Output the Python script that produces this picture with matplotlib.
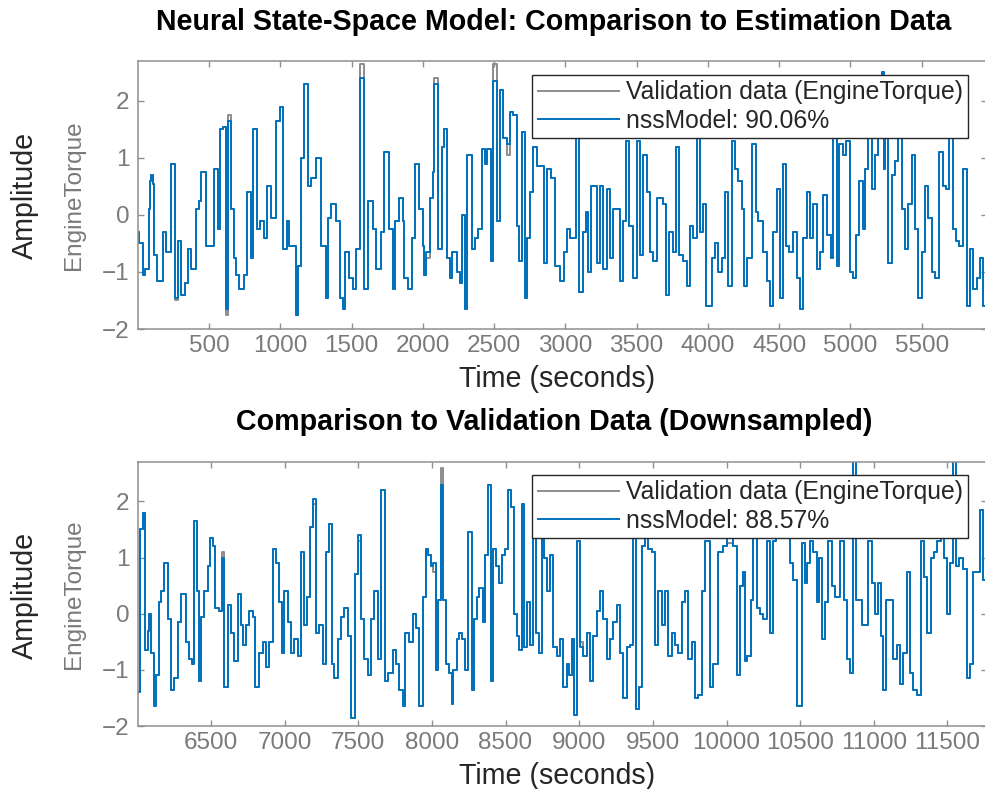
import matplotlib
matplotlib.use("Agg")
import matplotlib.pyplot as plt
import numpy as np

plt.rcParams['font.family'] = ['Liberation Sans', 'DejaVu Sans']

# ── data: step signals (switch time in s, level) ─────────────────────────────
# estimation data (top panel)
T_EST = [2, 11, 35, 53, 77, 86, 96, 105, 117, 133,
         175, 198, 234, 264, 280, 304, 334, 350, 374, 409,
         432, 444, 479, 538, 561, 577, 601, 619, 631, 654,
         678, 690, 713, 748, 767, 795, 807, 835, 858, 888,
         905, 935, 970, 1001, 1017, 1045, 1064, 1110, 1127, 1146,
         1169, 1192, 1216, 1251, 1286, 1321, 1333, 1356, 1391, 1419,
         1438, 1457, 1485, 1508, 1531, 1559, 1590, 1613, 1648, 1672,
         1707, 1730, 1765, 1789, 1807, 1835, 1859, 1870, 1894, 1924,
         1948, 1976, 1999, 2010, 2022, 2050, 2069, 2078, 2109, 2132,
         2148, 2167, 2190, 2207, 2237, 2261, 2277, 2296, 2312, 2342,
         2366, 2389, 2413, 2436, 2448, 2476, 2494, 2523, 2541, 2565,
         2593, 2611, 2630, 2658, 2677, 2693, 2717, 2733, 2752, 2775,
         2798, 2850, 2869, 2897, 2927, 2962, 2990, 3009, 3032, 3074,
         3098, 3121, 3145, 3161, 3177, 3219, 3243, 3266, 3290, 3313,
         3336, 3383, 3406, 3425, 3449, 3477, 3500, 3523, 3547, 3570,
         3594, 3617, 3645, 3687, 3706, 3729, 3753, 3776, 3799, 3827,
         3851, 3874, 3898, 3921, 3944, 3968, 3986, 4027, 4050, 4074,
         4097, 4120, 4144, 4167, 4191, 4214, 4237, 4254, 4272, 4312,
         4336, 4354, 4389, 4413, 4436, 4459, 4483, 4506, 4525, 4548,
         4572, 4595, 4623, 4647, 4670, 4693, 4717, 4740, 4763, 4787,
         4810, 4834, 4862, 4880, 4904, 4922, 4946, 4969, 4997, 5016,
         5039, 5063, 5086, 5103, 5126, 5149, 5173, 5196, 5220, 5236,
         5243, 5266, 5290, 5313, 5336, 5360, 5383, 5407, 5430, 5453,
         5477, 5500, 5523, 5547, 5570, 5594, 5624, 5647, 5671, 5694,
         5718, 5741, 5764, 5792, 5816, 5839, 5863, 5886, 5909, 5933]
NSS_EST = [-0.3, -0.5, -1.05, -0.95, 0.1, 0.6, 0.7, 0.55, -0.7, -1.15,
           -0.3, -0.65, 0.9, -1.45, -0.45, -1.4, -1.2, -0.6, -0.95, 0.1,
           0.25, 0.75, -0.55, 0.8, -0.25, 1.5, 1.55, -1.65, 1.65, 0.1,
           -0.75, -1.05, -1.3, -1.05, 0.4, -0.75, 1.5, -0.25, -0.1, -0.4,
           0.5, -0.05, 1.65, 1.9, -0.6, -0.1, -0.55, -1.75, -0.9, 1.0,
           2.3, 0.5, 0.65, 1.0, -0.55, -1.45, -0.05, 0.2, -0.1, -1.45,
           -1.65, -0.65, -1.1, -1.3, -0.6, 2.4, -1.3, 0.25, -0.25, -0.95,
           -0.3, 1.1, -0.25, -1.3, -0.1, 0.3, -0.1, -1.1, -1.3, -0.4,
           0.9, 0.1, -0.55, -1.05, -0.65, 0.3, 0.75, 2.3, -0.6, 1.2,
           1.5, -0.75, -1.1, -0.65, -1.0, -1.2, 0.0, -1.65, 1.05, -0.6,
           -0.4, -0.25, 1.15, 0.9, 1.15, -0.8, 2.35, -0.1, 2.2, 1.35,
           1.25, 1.8, 1.75, -0.2, -0.8, 1.45, -1.45, -0.4, 0.4, 1.2,
           0.85, -0.85, 0.8, 0.65, -0.9, -1.15, -0.65, -0.25, -0.4, 1.35,
           -1.35, -0.3, 0.05, -1.0, 0.5, -0.85, 0.5, -0.95, 0.45, -0.75,
           0.1, -1.15, -0.1, 1.3, -0.2, -1.1, 1.3, -0.7, 1.05, 0.4,
           -0.65, -0.8, 0.3, 0.2, -1.4, -0.3, -0.65, 1.2, -0.7, -0.8,
           -1.25, -0.2, -0.4, 1.35, -0.3, 0.2, -1.6, -0.75, -0.5, -1.0,
           -0.75, 0.4, -1.25, 1.3, 0.8, 0.6, 0.1, -1.25, -0.75, 1.25,
           0.05, -0.1, -0.65, -1.15, -1.6, -0.3, 0.45, -1.45, 0.9, -0.55,
           -0.65, -0.3, -1.1, -1.65, -0.4, 0.4, -0.4, 0.2, -0.95, -0.65,
           0.35, -0.35, -0.75, 1.6, -0.9, 1.25, 1.05, 1.3, -1.0, -1.1,
           -0.35, 0.6, -0.25, 0.8, 1.6, 0.45, 1.05, 1.8, 2.5, 0.8,
           1.7, -0.85, 0.7, 0.95, 1.8, 0.1, -0.6, 0.2, 1.05, -0.25,
           -1.45, -0.65, 0.5, -0.05, -1.0, -1.1, 1.1, 0.5, 0.45, 1.5,
           -0.25, -0.45, -0.55, 0.8, -1.6, -0.6, -1.3, -1.1, -0.75, -1.6]
# segments where the measured data departs from the model
EST_DIFF_T = [264, 619, 631, 1559, 2022, 2078, 2494, 2593]
EST_DIFF_Y = [-1.5, -1.75, 1.75, 2.65, -0.75, 2.4, 2.65, 1.05]

# validation data (bottom panel)
T_VAL = [6002, 6018, 6036, 6054, 6070, 6082, 6093, 6115, 6127, 6145,
         6161, 6183, 6206, 6229, 6251, 6274, 6296, 6330, 6349, 6371,
         6387, 6405, 6421, 6432, 6455, 6478, 6493, 6512, 6530, 6552,
         6575, 6591, 6613, 6636, 6659, 6681, 6704, 6720, 6738, 6760,
         6783, 6801, 6828, 6851, 6874, 6896, 6919, 6941, 6960, 6982,
         6998, 7021, 7043, 7066, 7089, 7111, 7134, 7150, 7172, 7190,
         7213, 7231, 7258, 7281, 7299, 7322, 7337, 7360, 7383, 7405,
         7428, 7451, 7480, 7496, 7519, 7541, 7564, 7586, 7609, 7632,
         7654, 7684, 7700, 7734, 7756, 7779, 7801, 7819, 7847, 7869,
         7892, 7915, 7942, 7960, 7976, 7991, 8010, 8028, 8043, 8059,
         8077, 8096, 8118, 8134, 8145, 8168, 8186, 8202, 8225, 8247,
         8270, 8286, 8304, 8322, 8344, 8360, 8383, 8399, 8417, 8435,
         8458, 8476, 8496, 8519, 8535, 8557, 8575, 8591, 8609, 8625,
         8643, 8666, 8684, 8707, 8729, 8745, 8761, 8783, 8802, 8824,
         8847, 8869, 8892, 8915, 8933, 8949, 8964, 8983, 9005, 9028,
         9051, 9073, 9096, 9118, 9141, 9164, 9186, 9209, 9232, 9254,
         9277, 9299, 9322, 9345, 9367, 9385, 9404, 9424, 9447, 9469,
         9492, 9514, 9537, 9560, 9582, 9605, 9628, 9650, 9673, 9695,
         9718, 9741, 9763, 9786, 9809, 9831, 9854, 9888, 9906, 9944,
         9978, 10001, 10046, 10069, 10092, 10110, 10126, 10141, 10164, 10182,
         10205, 10227, 10250, 10273, 10295, 10313, 10336, 10363, 10386, 10408,
         10431, 10454, 10481, 10510, 10533, 10549, 10567, 10589, 10612, 10630,
         10646, 10669, 10691, 10714, 10737, 10770, 10798, 10816, 10838, 10861,
         10879, 10918, 10963, 10985, 11008, 11031, 11047, 11065, 11083, 11133,
         11155, 11178, 11200, 11223, 11246, 11268, 11291, 11318, 11341, 11363,
         11386, 11409, 11431, 11454, 11476, 11499, 11517, 11540, 11558, 11581,
         11608, 11630, 11653, 11676, 11721, 11744]
NSS_VAL = [-1.4, 1.5, 1.8, -0.65, -0.3, 0.0, -0.7, -1.65, -1.1, 0.2,
           0.4, 0.9, -0.1, -1.35, -1.15, -0.15, 0.35, -0.5, -0.8, -0.9,
           1.65, 0.4, -1.2, -0.05, 0.4, 0.85, 1.35, 1.2, 0.1, 0.05,
           1.0, -1.3, 0.15, -0.35, -0.85, 0.35, -0.2, -0.55, -0.2, 0.05,
           -0.05, -1.3, -0.7, -0.5, -0.95, -0.5, 1.15, 0.9, 0.2, -0.7,
           0.4, -0.15, -0.7, -0.45, -0.75, 1.1, -0.2, 0.3, 1.55, 2.05,
           -0.35, -0.2, -0.9, 1.1, 1.6, -0.9, -1.15, -0.45, -0.05, 0.1,
           -0.4, -1.85, 0.7, 1.4, -0.1, -0.8, -1.1, -0.1, 0.4, -0.8,
           2.2, -1.2, -1.05, -0.65, -0.9, -1.35, -1.65, -0.35, -0.5, 0.0,
           -0.25, -1.65, 0.3, 1.15, 1.05, 0.85, 0.9, -1.0, 0.25, 2.3,
           0.25, -0.9, -1.05, -1.6, -1.0, -0.45, -0.35, -0.45, -1.0, 1.45,
           -1.35, -0.1, 0.3, 0.45, -0.15, 1.05, 2.3, -1.2, 1.15, 0.85,
           0.55, 1.05, 1.15, 2.2, 1.9, 0.0, -0.4, -0.65, 1.95, -0.6,
           0.2, -0.55, 1.7, -0.35, -0.7, 1.4, 1.0, 0.4, 1.05, -0.6,
           -0.75, -0.45, -1.3, -0.9, -1.1, -0.45, -1.8, 1.3, -0.6, -0.75,
           -0.35, -1.2, -0.4, 0.05, 0.4, -0.1, -0.8, -0.45, -0.15, 0.15,
           -0.7, -1.5, -0.6, -0.55, 1.5, -1.7, -1.3, 1.2, 1.55, 1.15,
           1.1, -0.55, 0.4, -0.2, 0.4, -0.75, -0.35, -0.55, -0.7, 0.2,
           0.4, -0.8, -0.5, -1.5, -1.45, 0.4, 1.3, -1.3, -0.9, 1.1,
           1.2, 1.35, 1.2, -1.1, 0.5, 0.75, -0.85, -0.75, 0.25, 1.35,
           0.1, 0.0, -0.1, 1.3, -0.35, 1.3, 2.05, 1.85, 1.65, 2.1,
           0.9, 0.6, -1.65, 1.25, 0.55, 0.9, 1.3, 1.1, 0.2, 1.0,
           -0.45, 0.2, 1.3, 0.5, 0.3, 1.3, 0.25, -0.8, -1.05, 2.8,
           0.25, -0.2, 1.3, 0.55, 0.0, 0.55, -0.4, -1.35, 0.25, -0.8,
           -0.55, -1.25, -0.7, 0.75, -1.05, -1.35, -1.45, 1.3, 0.65, -0.35,
           1.0, 1.1, 1.3, 1.5, 1.0, 0.0, 0.9, 2.8, 0.85, 1.0,
           0.8, -1.15, -0.9, 0.75, 1.85, 0.6]
VAL_DIFF_T = [6575, 7190, 7496, 8010, 8059, 9005, 10001]
VAL_DIFF_Y = [1.1, 1.95, 1.3, 0.75, 2.6, -0.5, 1.25]

EST_XLIM = (2, 5958)
VAL_XLIM = (6005, 11768)
EST_XTICKS = list(range(500, 6000, 500))
VAL_XTICKS = list(range(6500, 12000, 500))
YTICKS = [-2, -1, 0, 1, 2]
FITS = ["nssModel: 90.06%", "nssModel: 88.57%"]
TITLES = ["Neural State-Space Model: Comparison to Estimation Data",
          "Comparison to Validation Data (Downsampled)"]

# ── style ─────────────────────────────────────────────────────────────────────
BLUE = "#0072BD"
GRAY = "#8c8c8c"
AXC = "#8f8f8f"
TICKC = "#7a7a7a"
DARK = "#262626"

fig = plt.figure(figsize=(9.85, 7.89), dpi=100)
fig.patch.set_facecolor("white")

ax_est = fig.add_axes([0.1401, 0.5830, 0.8619, 0.3397])
ax_val = fig.add_axes([0.1401, 0.0798, 0.8619, 0.3346])


def draw_panel(ax, t, model, diff_t, diff_y, xlim, xticks, fit_label, leg_y):
    t = np.asarray(t, dtype=float)
    model = np.asarray(model, dtype=float)
    meas = model.copy()
    meas[np.searchsorted(t, diff_t)] = diff_y
    tt = np.append(t, xlim[1] + 50)
    ax.plot(tt, np.append(meas, meas[-1]), drawstyle="steps-post",
            color=GRAY, lw=1.4, label="Validation data (EngineTorque)")
    ax.plot(tt, np.append(model, model[-1]), drawstyle="steps-post",
            color=BLUE, lw=1.4, label=fit_label)

    ax.set_xlim(*xlim)
    ax.set_ylim(-2, 2.7)
    ax.set_xticks(xticks)
    ax.set_yticks(YTICKS)
    ax.tick_params(direction="in", length=4.5, width=1.0, color=AXC,
                   labelcolor=TICKC, labelsize=17.5, top=True, right=True)
    ax.tick_params(axis="x", pad=4)
    ax.tick_params(axis="y", pad=6)
    for sp in ax.spines.values():
        sp.set_color(AXC)
        sp.set_linewidth(1.1)

    ax.set_xlabel("Time (seconds)", fontsize=20.6, color=DARK)
    ax.xaxis.set_label_coords(0.494, -0.135)
    ax.set_ylabel("EngineTorque", fontsize=17.5, color=TICKC)
    ax.yaxis.set_label_coords(-0.063, 0.5)

    leg = ax.legend(loc="upper right", bbox_to_anchor=(0.9776, leg_y),
                    borderaxespad=0, fontsize=17.8, handlelength=3.3,
                    handletextpad=0.25, borderpad=0.22, labelspacing=0.18,
                    fancybox=False, framealpha=1, labelcolor=DARK)
    leg.get_frame().set_edgecolor(DARK)
    leg.get_frame().set_linewidth(1.0)


draw_panel(ax_est, T_EST, NSS_EST, EST_DIFF_T, EST_DIFF_Y,
           EST_XLIM, EST_XTICKS, FITS[0], 0.9478)
draw_panel(ax_val, T_VAL, NSS_VAL, VAL_DIFF_T, VAL_DIFF_Y,
           VAL_XLIM, VAL_XTICKS, FITS[1], 0.9508)

# titles and outer y labels
fig.text(554 / 985, 1 - 22 / 789, TITLES[0], ha="center", va="center",
         fontsize=20.6, fontweight="bold", color="black")
fig.text(554 / 985, 1 - 422 / 789, TITLES[1], ha="center", va="center",
         fontsize=20.6, fontweight="bold", color="black")
fig.text(25 / 985, 1 - 195 / 789, "Amplitude", rotation=90, ha="center",
         va="center", fontsize=20.6, color=DARK)
fig.text(25 / 985, 1 - 595 / 789, "Amplitude", rotation=90, ha="center",
         va="center", fontsize=20.6, color=DARK)

fig.savefig("out.png", dpi=100, facecolor="white")
